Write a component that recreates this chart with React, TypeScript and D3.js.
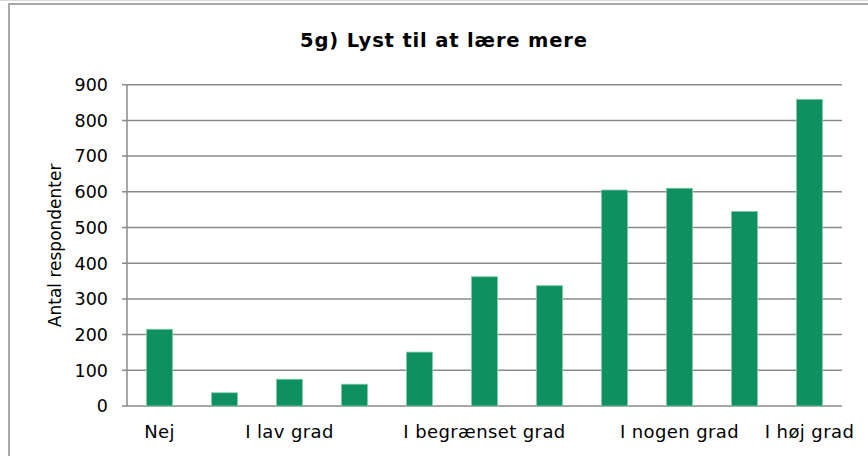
import React from "react";
import * as d3 from "d3";

const categories = ["Nej", "", "I lav grad", "", "", "I begrænset grad", "", "", "I nogen grad", "", "I høj grad"];
const values = [215, 37, 75, 61, 151, 362, 337, 605, 610, 545, 859];
const yTicks = [0, 100, 200, 300, 400, 500, 600, 700, 800, 900];
const title = "5g) Lyst til at lære mere";
const yTitle = "Antal respondenter";

const W = 868;
const H = 456;
const plot = { left: 127, right: 842, top: 84.7, bottom: 406 };
const FONT = "'DejaVu Sans', Verdana, sans-serif";

export default function App() {
  const idx = categories.map((_, i) => String(i));
  const x = d3.scaleBand<string>().domain(idx).range([plot.left, plot.right]).paddingInner(0.6).paddingOuter(0.3);
  const y = d3.scaleLinear().domain([0, 900]).range([plot.bottom, plot.top]);

  return (
    <svg width={W} height={H} style={{ position: "absolute", left: 0, top: 0, background: "#fff" }}>
      <line x1={0} x2={W} y1={0.5} y2={0.5} stroke="#d9d9d9" strokeWidth={1} />
      <rect x={9} y={4} width={W + 10} height={H + 10} fill="#fff" stroke="#8c8c8c" strokeWidth={1.5} />
      <text x={443.5} y={47} textAnchor="middle" fontFamily={FONT} fontWeight="bold" fontSize={19.5} textLength={287} lengthAdjust="spacing" fill="#000">
        {title}
      </text>
      {yTicks.map((t) => (
        <g key={t}>
          <line x1={plot.left - 5} x2={plot.right} y1={y(t)} y2={y(t)} stroke="#8a8a8a" strokeWidth={1.5} />
          <text x={108} y={y(t)} dy="0.36em" textAnchor="end" fontFamily={FONT} fontSize={17.5} fill="#000">
            {t}
          </text>
        </g>
      ))}
      <line x1={plot.left} x2={plot.left} y1={plot.top} y2={plot.bottom} stroke="#8a8a8a" strokeWidth={1.5} />
      {values.map((v, i) => (
        <rect
          key={i}
          x={x(String(i))}
          y={y(v)}
          width={x.bandwidth()}
          height={plot.bottom - y(v)}
          fill="#0e9061"
          stroke="#7fcca9"
          strokeWidth={0.8}
        />
      ))}
      {categories.map((c, i) =>
        c ? (
          <text key={i} x={(x(String(i)) as number) + x.bandwidth() / 2} y={438} textAnchor="middle" fontFamily={FONT} fontSize={18} letterSpacing={0.4} fill="#000">
            {c}
          </text>
        ) : null
      )}
      <text transform={`translate(61,${(plot.top + plot.bottom) / 2}) rotate(-90)`} textAnchor="middle" fontFamily={FONT} fontSize={17} fill="#000">
        {yTitle}
      </text>
    </svg>
  );
}
